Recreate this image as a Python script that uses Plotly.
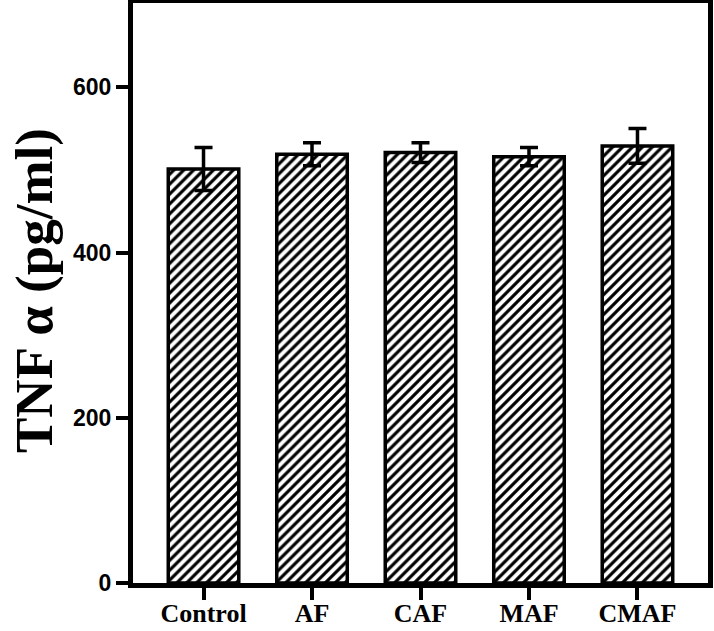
import plotly.graph_objects as go

categories = ["Control", "AF", "CAF", "MAF", "CMAF"]
means = [501, 519, 521, 516, 529]
errors = [26, 14, 12, 11, 21]
y_ticks = [0, 200, 400, 600]
y_title = "TNF α (pg/ml)"

fig = go.Figure()
fig.add_trace(go.Bar(
    x=categories, y=means, width=0.65,
    marker=dict(color="white", line=dict(color="black", width=3.5),
                pattern=dict(shape="/", size=7, solidity=0.45, fgcolor="black",
                             fgopacity=1, bgcolor="white")),
    error_y=dict(type="data", array=errors, visible=True, color="black", thickness=3.5, width=9),
))

fig.update_layout(
    width=714, height=631,
    margin=dict(l=133, r=6, t=3, b=48),
    plot_bgcolor="white", paper_bgcolor="white",
    showlegend=False,
    xaxis=dict(range=[-0.65, 4.65], showline=True, linecolor="black", linewidth=5, mirror=True,
               automargin=False,
               ticks="outside", ticklen=12, tickwidth=4, tickcolor="black", ticklabelstandoff=-9,
               tickfont=dict(family="Liberation Serif", size=26, color="black", weight="bold")),
    yaxis=dict(range=[0, 702], tickvals=y_ticks, showline=True, linecolor="black", linewidth=5, mirror=True,
               automargin=False,
               ticks="outside", ticklen=12, tickwidth=4, tickcolor="black", showgrid=False, zeroline=False,
               tickfont=dict(family="Liberation Sans", size=23, color="black", weight="bold")),
    annotations=[dict(text=y_title, xref="paper", yref="paper", x=0, y=0.5,
                      xanchor="center", yanchor="middle", xshift=-99, yshift=2,
                      textangle=-90, showarrow=False,
                      font=dict(family="Liberation Serif", size=53, color="black", weight="bold"))],
)
fig.write_html("out.html", config={"displayModeBar": False},
               post_script="document.body.style.margin='0';")
